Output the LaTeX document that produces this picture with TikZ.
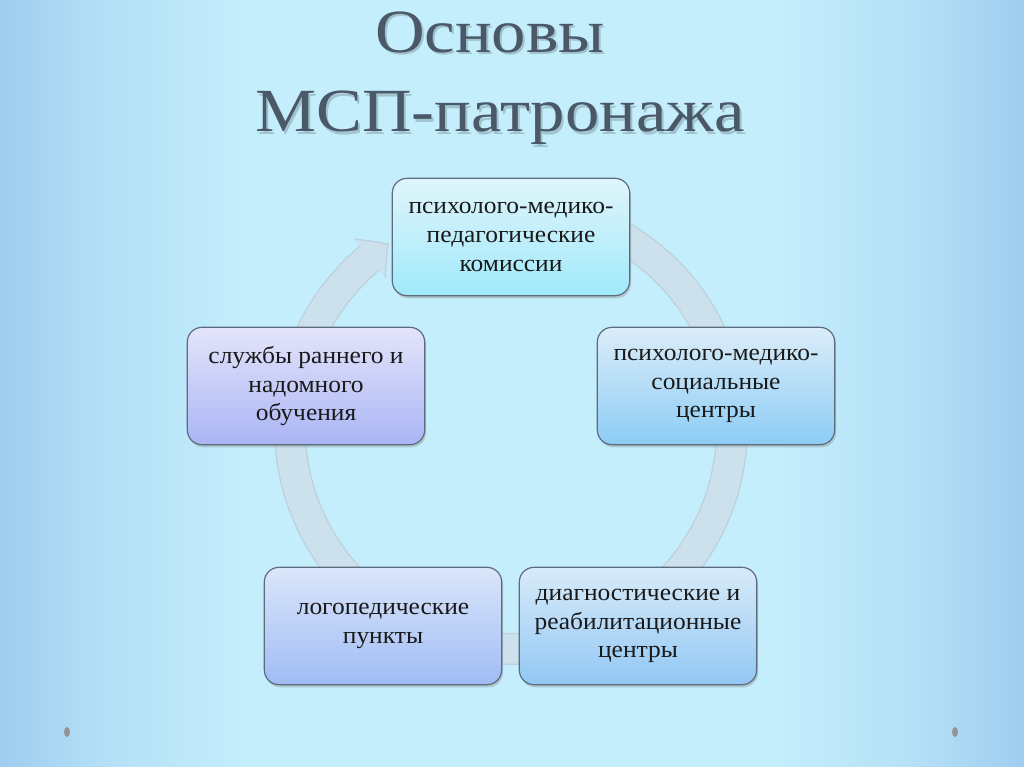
\documentclass[tikz,border=0pt]{standalone}
\usepackage{fontspec}
\setmainfont{Liberation Serif}
\newfontfamily\titlefont[FakeStretch=1.12]{Liberation Serif}
\newfontfamily\boxfont[FakeStretch=1.06]{Liberation Serif}
\usetikzlibrary{shadows,arrows.meta,bending}
\definecolor{bgmid}{RGB}{196,238,252}
\definecolor{bgedge}{RGB}{160,205,240}
\definecolor{ringc}{RGB}{205,225,236}
\definecolor{ringedge}{RGB}{188,208,222}
\definecolor{titlec}{RGB}{74,88,104}
\definecolor{boxline}{RGB}{92,108,124}
\definecolor{txt}{RGB}{25,25,25}
\pgfdeclarehorizontalshading{bgsh}{100bp}{color(0bp)=(bgedge); color(25bp)=(bgedge); color(30bp)=(bgmid!55!bgedge); color(37bp)=(bgmid); color(63bp)=(bgmid); color(70bp)=(bgmid!55!bgedge); color(75bp)=(bgedge); color(100bp)=(bgedge)}
\tikzset{
  box/.style={draw=boxline, line width=0.9pt, rounded corners=11pt,
    minimum width=178pt, minimum height=88pt, align=center,
    font=\boxfont\fontsize{18}{21.5}\selectfont, text=txt,
    drop shadow={opacity=0.35, shadow xshift=1pt, shadow yshift=-2pt}},
  ttl/.style={font=\titlefont\fontsize{46}{50}\selectfont, text=titlec},
  ttlshadow/.style={font=\titlefont\fontsize{46}{50}\selectfont, text=black, opacity=0.18}
}
\begin{document}
\begin{tikzpicture}[x=0.75pt,y=-0.75pt]
\useasboundingbox (0,0) rectangle (1024,767);
\fill[shading=bgsh] (0,0) rectangle (1024,767);
% dots
\fill[gray!85] (67,732) ellipse[x radius=3, y radius=5];
\fill[gray!85] (955,732) ellipse[x radius=3, y radius=5];
% title
\node[ttlshadow, anchor=base] at (492,55) {Основы};
\node[ttl, anchor=base] (t1) at (490,53) {Основы};
\node[ttlshadow, anchor=base] at (502,134) {МСП-патронажа};
\node[ttl, anchor=base] (t2) at (500,132) {МСП-патронажа};
% ring
\coordinate (ringc) at (511,428);
\draw[ringedge, line width=24pt, -{Triangle[length=18pt, width=37pt, bend]}]
  (ringc) ++(-80:221) arc[start angle=-80, end angle=236.5, radius=221];
\draw[ringc, line width=22pt, -{Triangle[length=16.5pt, width=34pt, bend]}]
  (ringc) ++(-80:221) arc[start angle=-80, end angle=236, radius=221];
% boxes
\node[box, top color={rgb,255:red,224;green,245;blue,251}, bottom color={rgb,255:red,160;green,233;blue,251}] (pmpk) at (511,237)
  {психолого-медико-\\педагогические\\комиссии};
\node[box, top color={rgb,255:red,220;green,237;blue,249}, bottom color={rgb,255:red,140;green,204;blue,245}] (pmsc) at (716,386)
  {психолого-медико-\\социальные\\центры};
\node[box, top color={rgb,255:red,216;green,235;blue,249}, bottom color={rgb,255:red,146;green,199;blue,244}] (drc) at (638,626)
  {диагностические и\\реабилитационные\\центры};
\node[box, top color={rgb,255:red,218;green,230;blue,250}, bottom color={rgb,255:red,160;green,188;blue,245}] (lp) at (383,626)
  {логопедические\\пункты};
\node[box, top color={rgb,255:red,228;green,228;blue,250}, bottom color={rgb,255:red,170;green,181;blue,245}] (srn) at (306,386)
  {службы раннего и\\надомного\\обучения};
\end{tikzpicture}
\end{document}
